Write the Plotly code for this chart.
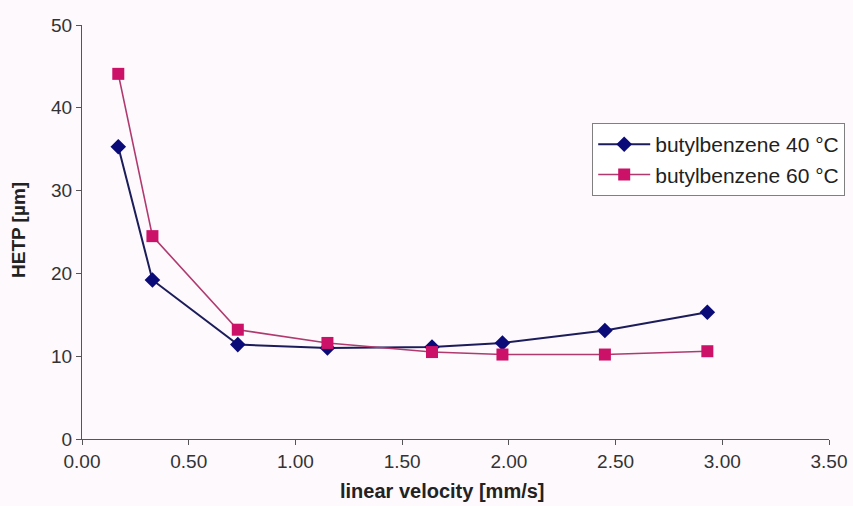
import plotly.graph_objects as go

# Linear velocity [mm/s]
velocity = [0.17, 0.33, 0.73, 1.15, 1.64, 1.97, 2.45, 2.93]
# HETP [µm] for butylbenzene at two column temperatures
hetp_40 = [35.3, 19.2, 11.4, 11.0, 11.1, 11.6, 13.1, 15.3]
hetp_60 = [44.1, 24.5, 13.2, 11.6, 10.5, 10.2, 10.2, 10.6]

x_ticks = [0, 0.5, 1.0, 1.5, 2.0, 2.5, 3.0, 3.5]
y_ticks = [0, 10, 20, 30, 40, 50]

font_family = "Liberation Sans, Arial, sans-serif"
bg = "#fdf9fd"

W, H = 853, 506
L, R, T, B = 82, 24, 25, 67

fig = go.Figure()
fig.add_trace(go.Scatter(
    x=velocity, y=hetp_40, mode="lines+markers",
    name="butylbenzene 40 °C", legendgroup="t40",
    line=dict(color="#1c1c5a", width=2),
    marker=dict(symbol="diamond", size=12, color="#0a0a78"),
))
fig.add_trace(go.Scatter(
    x=velocity, y=hetp_60, mode="lines+markers",
    name="butylbenzene 60 °C", legendgroup="t60",
    line=dict(color="#b03a6e", width=1.6),
    marker=dict(symbol="square", size=12, color="#cc1168"),
))

fig.update_layout(
    width=W, height=H,
    margin=dict(l=L, r=R, t=T, b=B, autoexpand=False),
    paper_bgcolor=bg, plot_bgcolor=bg,
    font=dict(family=font_family, size=19, color="#333333"),
    showlegend=True,
    legend=dict(
        x=0.683, y=0.763, xanchor="left", yanchor="top",
        bgcolor="#ffffff", bordercolor="#808080", borderwidth=1,
        font=dict(size=21, color="#222222"),
        tracegroupgap=0, itemwidth=52,
    ),
)
fig.update_xaxes(
    range=[0, 3.5], tickvals=x_ticks,
    ticktext=[f"{v:.2f}" for v in x_ticks],
    showgrid=False, zeroline=False, automargin=False,
    showline=True, linecolor="#555555", linewidth=1,
    ticks="outside", ticklen=5, tickcolor="#555555",
)
fig.update_yaxes(
    range=[0, 50], tickvals=y_ticks,
    showgrid=False, zeroline=False, automargin=False,
    showline=True, linecolor="#555555", linewidth=1,
    ticks="outside", ticklen=5, tickcolor="#555555",
)

# Axis titles placed as annotations
plot_w = W - L - R
plot_h = H - T - B
fig.add_annotation(
    text="<b>linear velocity [mm/s]</b>", showarrow=False,
    xref="paper", yref="paper",
    x=(442 - L) / plot_w, y=-(H - 2 - (H - B)) / plot_h,
    xanchor="center", yanchor="bottom",
    font=dict(size=20, color="#222222"),
)
fig.add_annotation(
    text="<b>HETP [µm]</b>", showarrow=False, textangle=-90,
    xref="paper", yref="paper",
    x=-(L - 18) / plot_w, y=((H - B) - 230) / plot_h,
    xanchor="center", yanchor="middle",
    font=dict(size=19, color="#222222"),
)

fig.write_html("out.html")
